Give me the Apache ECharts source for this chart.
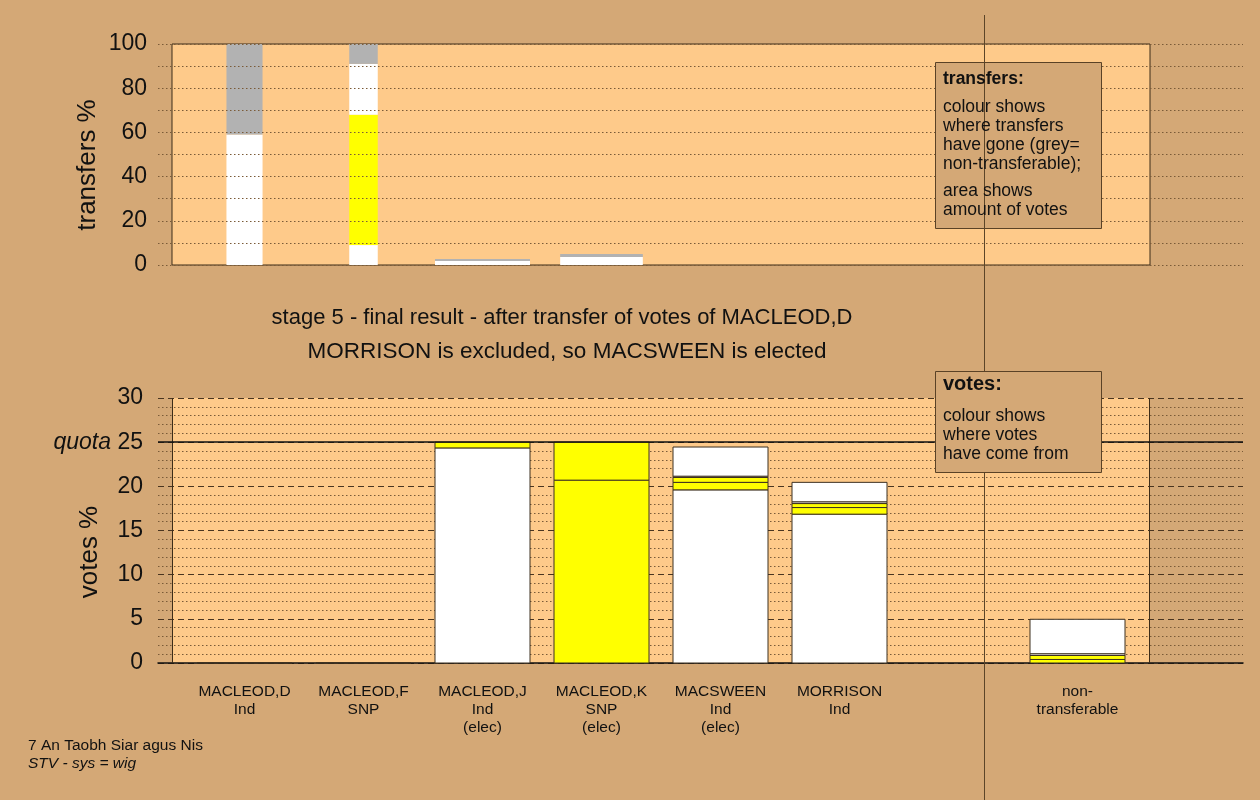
<!DOCTYPE html>
<html>
<head>
<meta charset="utf-8">
<script src="https://cdn.jsdelivr.net/npm/echarts@6/dist/echarts.min.js"></script>
<style>
html,body{margin:0;padding:0;background:#d4a876;}
#c{width:1260px;height:800px;}
</style>
</head>
<body>
<div id="c"></div>
<script>
// ---------- data ----------
const candidates = ['MACLEOD,D', 'MACLEOD,F', 'MACLEOD,J', 'MACLEOD,K', 'MACSWEEN', 'MORRISON', '', 'non-'];
const parties    = ['Ind', 'SNP', 'Ind', 'SNP', 'Ind', 'Ind', '', 'transferable'];
const elected    = [false, false, true, true, true, false, false, false];
const quota = 25;

// lower chart: votes % per column, stacked segments (bottom to top), colour = source of votes
const voteValues  = [[0], [0], [24.35, 0.65], [20.7, 4.3], [19.6, 0.85, 0.55, 0.15, 3.3], [16.85, 0.75, 0.45, 0.2, 2.2], [], [0.4, 0.45, 0.2, 3.9]];
const voteColours = [['w'], ['w'], ['w', 'y'], ['y', 'y'], ['w', 'y', 'y', 'w', 'w'], ['w', 'y', 'y', 'w', 'w'], [], ['y', 'y', 'w', 'w']];

// upper chart: transfers % per column, colour = destination (grey = non-transferable)
const transferValues  = [[59, 41], [9, 59, 23, 9], [1.8, 0.9], [3.6, 1.4], [], [], [], []];
const transferColours = [['w', 'g'], ['w', 'y', 'w', 'g'], ['w', 'g'], ['w', 'g'], [], [], [], []];
// relative amount of votes transferred (bar area shows amount of votes)
const transferAmount  = [0.38, 0.30, 1.0, 0.87, 0, 0, 0, 0];

const topTicks = [0, 20, 40, 60, 80, 100];
const bottomTicks = [0, 5, 10, 15, 20, 25, 30];

// ---------- styling ----------
const palette = { w: '#ffffff', y: '#ffff00', g: '#b2b2b2' };
const BG = '#d4a876', PLOT = '#feca8a';
const FONT = "'Liberation Sans', Arial, Helvetica, sans-serif";
const BAR_FRAC = 95 / 119;

const catLabels = candidates.map((c, i) => {
  if (!c) return '';
  let s = c + '\n' + parties[i];
  if (elected[i]) s += '\n(elec)';
  return s;
});

function buildSegments(values, colours, widths) {
  const out = [];
  values.forEach((segs, i) => {
    let base = 0;
    segs.forEach((v, j) => {
      out.push({ value: [i, base, base + v, widths ? widths[i] : 1], itemStyle: { color: palette[colours[i][j]] } });
      base += v;
    });
  });
  return out;
}

function renderBar(params, api) {
  const x = api.value(0), y0 = api.value(1), y1 = api.value(2), wf = api.value(3);
  const band = api.size([1, 0])[0];
  const w = band * BAR_FRAC * wf;
  const p0 = api.coord([x, y0]);
  const p1 = api.coord([x, y1]);
  return {
    type: 'rect',
    shape: { x: p0[0] - w / 2, y: p1[1], width: w, height: p0[1] - p1[1] },
    style: api.style()
  };
}

const dotted = { color: '#7a5b38', width: 1, type: [1.5, 2.5] };
const dashed = { color: '#4a3520', width: 1, type: [6, 4] };

const chart = echarts.init(document.getElementById('c'));
chart.setOption({
  animation: false,
  backgroundColor: BG,
  textStyle: { fontFamily: FONT },
  grid: [
    { left: 158, right: 17, top: 44, height: 221 },
    { left: 185, right: 123, top: 44, height: 221 },
    { left: 158, right: 17, top: 398, height: 265 },
    { left: 185, right: 123, top: 398, height: 265 }
  ],
  xAxis: [
    { gridIndex: 0, type: 'value', min: 0, max: 1, show: false },
    { gridIndex: 1, type: 'category', data: catLabels, show: false },
    { gridIndex: 2, type: 'value', min: 0, max: 1, axisLine: { show: true, lineStyle: { color: '#111', width: 1.5 } },
      axisTick: { show: false }, axisLabel: { show: false }, splitLine: { show: false } },
    { gridIndex: 3, type: 'category', data: catLabels, axisLine: { show: false }, axisTick: { show: false },
      axisLabel: { interval: 0, margin: 20, fontSize: 15.5, lineHeight: 18, color: '#111', fontFamily: FONT } }
  ],
  yAxis: [
    { gridIndex: 0, type: 'value', min: topTicks[0], max: topTicks[topTicks.length - 1], interval: 20, z: 3,
      axisLine: { show: false }, axisTick: { show: false },
      axisLabel: { fontSize: 23, color: '#111', margin: 11, fontFamily: FONT },
      splitLine: { show: true, lineStyle: dotted },
      minorTick: { show: true, splitNumber: 2, length: 0, lineStyle: { opacity: 0 } },
      minorSplitLine: { show: true, lineStyle: dotted } },
    { gridIndex: 1, type: 'value', min: 0, max: 100, show: false },
    { gridIndex: 2, type: 'value', min: bottomTicks[0], max: bottomTicks[bottomTicks.length - 1], interval: 5,
      axisLine: { show: false }, axisTick: { show: false },
      axisLabel: { fontSize: 23, color: '#111', margin: 15, fontFamily: FONT,
        formatter: v => v === quota ? '{q|quota} ' + v : String(v),
        rich: { q: { fontStyle: 'italic', fontSize: 23, color: '#111', fontFamily: FONT } } },
      splitLine: { show: true, lineStyle: dashed },
      minorTick: { show: true, splitNumber: 5, length: 0, lineStyle: { opacity: 0 } },
      minorSplitLine: { show: true, lineStyle: dotted } },
    { gridIndex: 3, type: 'value', min: 0, max: 30, show: false }
  ],
  series: [
    { type: 'custom', xAxisIndex: 1, yAxisIndex: 1, renderItem: renderBar,
      itemStyle: { borderWidth: 0 },
      data: buildSegments(transferValues, transferColours, transferAmount) },
    { type: 'custom', xAxisIndex: 3, yAxisIndex: 3, renderItem: renderBar,
      itemStyle: { borderColor: '#3d3020', borderWidth: 1 },
      data: buildSegments(voteValues, voteColours, null) },
    { type: 'line', xAxisIndex: 2, yAxisIndex: 2, data: [], silent: true,
      markLine: { symbol: 'none', silent: true, label: { show: false },
        lineStyle: { color: '#111', type: 'solid', width: 1.5 }, data: [{ yAxis: quota }] } }
  ],
  graphic: [
    { type: 'rect', z: -1, shape: { x: 172, y: 44, width: 978, height: 221 }, style: { fill: PLOT, stroke: '#3d2d18', lineWidth: 1 } },
    { type: 'rect', z: -1, shape: { x: 172, y: 398, width: 978, height: 265 }, style: { fill: PLOT } },
    { type: 'line', z: 1, shape: { x1: 172.5, y1: 398, x2: 172.5, y2: 663 }, style: { stroke: '#3d2d18', lineWidth: 1 } },
    { type: 'line', z: 1, shape: { x1: 1149.5, y1: 398, x2: 1149.5, y2: 663 }, style: { stroke: '#3d2d18', lineWidth: 1 } },
    // axis names
    { type: 'text', z: 5, x: 88, y: 165, rotation: Math.PI / 2, style: { text: 'transfers %', font: '26px ' + FONT, fill: '#111', textAlign: 'center', textVerticalAlign: 'middle' } },
    { type: 'text', z: 5, x: 90, y: 552, rotation: Math.PI / 2, style: { text: 'votes %', font: '26px ' + FONT, fill: '#111', textAlign: 'center', textVerticalAlign: 'middle' } },
    // transfers box (under separator)
    { type: 'rect', z: 10, shape: { x: 935.5, y: 62.5, width: 166, height: 166 }, style: { fill: BG, stroke: '#5a4226', lineWidth: 1 } },
    { type: 'line', z: 11, shape: { x1: 984.5, y1: 15, x2: 984.5, y2: 800 }, style: { stroke: '#5c4528', lineWidth: 1 } },
    { type: 'text', z: 12, left: 943, top: 70, style: { text: 'transfers:', font: 'bold 17.5px ' + FONT, fill: '#111' } },
    { type: 'text', z: 12, left: 943, top: 98, style: { text: 'colour shows\nwhere transfers\nhave gone (grey=\nnon-transferable);', font: '17.5px ' + FONT, lineHeight: 19, fill: '#111' } },
    { type: 'text', z: 12, left: 943, top: 182, style: { text: 'area shows\namount of votes', font: '17.5px ' + FONT, lineHeight: 19, fill: '#111' } },
    // votes box (over separator)
    { type: 'rect', z: 13, shape: { x: 935.5, y: 371.5, width: 166, height: 101 }, style: { fill: BG, stroke: '#5a4226', lineWidth: 1 } },
    { type: 'text', z: 14, left: 943, top: 374, style: { text: 'votes:', font: 'bold 20px ' + FONT, fill: '#111' } },
    { type: 'text', z: 14, left: 943, top: 407, style: { text: 'colour shows\nwhere votes\nhave come from', font: '17.5px ' + FONT, lineHeight: 19, fill: '#111' } },
    // titles
    { type: 'text', z: 5, x: 562, y: 318, style: { text: 'stage 5 - final result - after transfer of votes of MACLEOD,D', font: '22px ' + FONT, fill: '#111', textAlign: 'center', textVerticalAlign: 'middle' } },
    { type: 'text', z: 5, x: 567, y: 352, style: { text: 'MORRISON is excluded, so MACSWEEN is elected', font: '22.5px ' + FONT, fill: '#111', textAlign: 'center', textVerticalAlign: 'middle' } },
    { type: 'text', z: 5, left: 28, top: 738, style: { text: '7 An Taobh Siar agus Nis', font: '15.5px ' + FONT, fill: '#111' } },
    { type: 'text', z: 5, left: 28, top: 756, style: { text: 'STV - sys = wig', font: 'italic 15.5px ' + FONT, fill: '#111' } }
  ]
});
</script>
</body>
</html>
